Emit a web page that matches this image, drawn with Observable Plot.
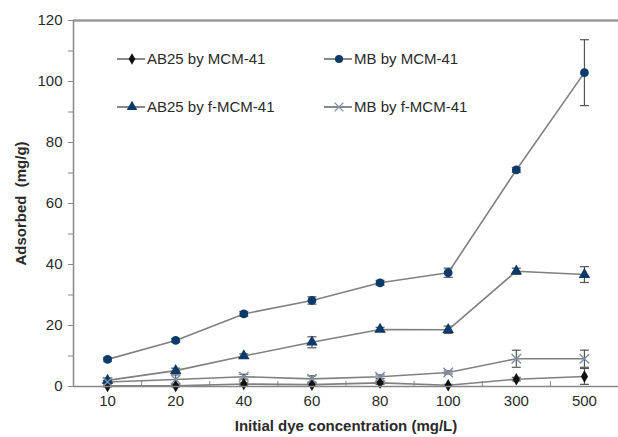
<!DOCTYPE html>
<html><head><meta charset="utf-8">
<script src="https://cdn.jsdelivr.net/npm/d3@7"></script>
<script src="https://cdn.jsdelivr.net/npm/@observablehq/plot@0.6"></script>
<style>
body{margin:0;background:#fff;}
#wrap{position:relative;width:618px;height:437px;}
#legend{position:absolute;left:0;top:0;}
</style>
</head><body><div id="wrap"></div>
<script>
const categories = ["10","20","40","60","80","100","300","500"];
const seriesNames = ["AB25 by MCM-41","MB by MCM-41","AB25 by f-MCM-41","MB by f-MCM-41"];
const ab25MCM    = [0.2,0.2,0.8,0.6,1.2,0.4,2.4,3.3];
const ab25MCMErr = [0.3,0.3,0.4,0.5,0.5,0.3,0.6,2.6];
const mbMCM      = [8.9,15.1,23.8,28.2,34,37.3,71,102.9];
const mbMCMErr   = [0.6,0.6,0.8,1.2,0.8,1.5,0.8,10.8];
const ab25F      = [2,5.2,10,14.5,18.7,18.6,37.8,36.7];
const ab25FErr   = [0.8,0.8,0.7,1.8,0.7,1.2,1,2.6];
const mbF        = [1.5,2.3,3.2,2.5,3.2,4.6,9.1,9.1];
const mbFErr     = [0.5,1.5,0.8,1,0.6,0.5,2.8,2.8];
const yTicks = [0,10,20,30,40,50,60,70,80,90,100,110,120];

const seriesVals = [ab25MCM, mbMCM, ab25F, mbF];
const seriesErrs = [ab25MCMErr, mbMCMErr, ab25FErr, mbFErr];
const rows = [];
seriesNames.forEach((s, k) => categories.forEach((c, i) => rows.push({
  series: s, i, v: seriesVals[k][i], lo: seriesVals[k][i] - seriesErrs[k][i], hi: seriesVals[k][i] + seriesErrs[k][i]
})));
const of = s => rows.filter(r => r.series === s);

const font = "'Liberation Sans', Arial, sans-serif";
const navy = "#0c3b6b";
const styles = {
  "AB25 by MCM-41": {symbol: "diamond", fill: "#111", stroke: "none", r: 3.8},
  "MB by MCM-41": {symbol: "circle", fill: navy, stroke: "none", r: 4.4},
  "AB25 by f-MCM-41": {symbol: "triangle", fill: navy, stroke: "none", r: 4.3},
  "MB by f-MCM-41": {symbol: "times", fill: "none", stroke: "#7d8fa3", r: 4.4}
};
const capSymbol = {draw(ctx, size) { const w = 4.5; ctx.moveTo(-w, 0); ctx.lineTo(w, 0); }};

const marks = [
  Plot.ruleY([120], {stroke: "#9a9a9a", strokeWidth: 2.5}),
  Plot.ruleX([-0.5], {stroke: "#888", strokeWidth: 1.5}),
  Plot.ruleX(d3.range(0.5, 7.5, 1), {stroke: "#888", strokeWidth: 1, insetTop: 361}),
  Plot.axisY({ticks: yTicks, tickSize: 5, tickPadding: 6, tickFormat: d => d % 20 === 0 ? String(d) : "",
    stroke: "#888", fill: "#2a2a2a", fontSize: 15, label: null}),
  Plot.axisY({ticks: [], label: "Adsorbed\u00a0\u00a0(mg/g)", labelAnchor: "center", labelArrow: "none",
    labelOffset: 58, fill: "#2a2a2a", fontSize: 15, fontWeight: "bold"}),
  Plot.axisX({ticks: d3.range(0, 8), tickSize: 0, tickPadding: 9, tickFormat: i => categories[i],
    fill: "#2a2a2a", fontSize: 15, label: null}),
  Plot.axisX({ticks: [], label: "Initial dye concentration (mg/L)", labelAnchor: "center", labelArrow: "none",
    labelOffset: 44, fill: "#2a2a2a", fontSize: 15, fontWeight: "bold"}),
  Plot.ruleX(rows, {x: "i", y1: "lo", y2: "hi", stroke: "#555", strokeWidth: 1.2}),
  Plot.dot(rows, {x: "i", y: "lo", symbol: capSymbol, stroke: "#555", strokeWidth: 1.2, r: 4}),
  Plot.dot(rows, {x: "i", y: "hi", symbol: capSymbol, stroke: "#555", strokeWidth: 1.2, r: 4}),
];
seriesNames.forEach(s => marks.push(Plot.line(of(s), {x: "i", y: "v", stroke: "#808080", strokeWidth: 1.6})));
seriesNames.forEach(s => {
  const st = styles[s];
  marks.push(Plot.dot(of(s), {x: "i", y: "v", symbol: st.symbol, fill: st.fill, stroke: st.stroke, r: st.r, strokeWidth: 1.4}));
});
marks.push(Plot.ruleY([0], {stroke: "#888", strokeWidth: 1.6}));

const chart = Plot.plot({
  width: 618, height: 437,
  marginLeft: 73, marginRight: 0, marginTop: 20, marginBottom: 51,
  x: {type: "linear", domain: [-0.5, 7.5]},
  y: {domain: [0, 120]},
  style: {fontFamily: font, fontSize: "15px", color: "#2a2a2a", background: "#fff"},
  marks
});
document.getElementById("wrap").appendChild(chart);

// legend overlay
const legendPos = [[117, 59], [324, 59], [117, 107], [324, 107]];
const lg = d3.select("#wrap").append("svg").attr("id", "legend").attr("width", 618).attr("height", 437)
  .style("font-family", font).style("font-size", "15px");
seriesNames.forEach((s, k) => {
  const [x, y] = legendPos[k];
  const st = styles[s];
  const g = lg.append("g").attr("transform", `translate(${x},${y})`);
  g.append("line").attr("x1", 0).attr("x2", 28).attr("stroke", "#555").attr("stroke-width", 1.4);
  const symType = {diamond: d3.symbolDiamond, circle: d3.symbolCircle, triangle: d3.symbolTriangle, times: d3.symbolTimes}[st.symbol];
  g.append("path").attr("transform", "translate(15,0)")
    .attr("d", d3.symbol(symType, Math.PI * st.r * st.r * 0.85)())
    .attr("fill", st.fill).attr("stroke", st.stroke).attr("stroke-width", 1.4);
  g.append("text").attr("x", 30).attr("dy", "0.35em").attr("fill", "#2a2a2a").text(s);
});
</script></body></html>
